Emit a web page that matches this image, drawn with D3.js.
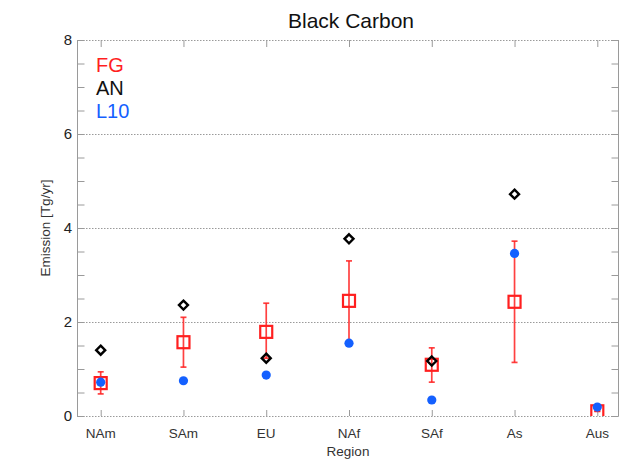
<!DOCTYPE html>
<html>
<head>
<meta charset="utf-8">
<script src="https://cdn.jsdelivr.net/npm/d3@7"></script>
<style>
  body { margin: 0; background: #fff; }
  svg { font-family: "Liberation Sans", Arial, sans-serif; }
</style>
</head>
<body>
<div class="chart"></div>
<script>
// data
const regions = ["NAm", "SAm", "EU", "NAf", "SAf", "As", "Aus"];
const fg = [0.7, 1.57, 1.79, 2.45, 1.09, 2.43, 0.1];
const fgLow = [0.47, 1.04, 1.23, 1.57, 0.72, 1.14, 0.1];
const fgHigh = [0.94, 2.1, 2.4, 3.3, 1.45, 3.72, 0.1];
const an = [1.4, 2.36, 1.23, 3.77, 1.17, 4.72, null];
const l10 = [0.72, 0.75, 0.87, 1.55, 0.34, 3.46, 0.19];
const yTicks = [0, 2, 4, 6, 8];
const legendLabels = ["FG", "AN", "L10"];

const red = "#ff1f1f";
const blue = "#1460ff";
const legendColors = [red, "#111", blue];

// canvas size
const width = 621;
const height = 459;
const pLeft = 77;
const pRight = 619;
const pTop = 40;
const pBottom = 416;

const svg = d3
  .select(".chart")
  .append("svg")
  .attr("width", width)
  .attr("height", height);

// scales
const xScale = d3.scalePoint().domain(regions).range([80, 618]).padding(0.25);
const yScale = d3.scaleLinear().domain([0, 8]).range([pBottom, pTop]);

// clip for marks
svg
  .append("clipPath")
  .attr("id", "plot-clip")
  .append("rect")
  .attr("x", pLeft)
  .attr("y", pTop)
  .attr("width", pRight - pLeft)
  .attr("height", pBottom - pTop);

// dotted gridlines incl. top and bottom frame
svg
  .append("g")
  .selectAll("line")
  .data(yTicks)
  .enter()
  .append("line")
  .attr("x1", pLeft)
  .attr("x2", pRight)
  .attr("y1", (d) => yScale(d) + 0.5)
  .attr("y2", (d) => yScale(d) + 0.5)
  .attr("stroke", "#9a9a9a")
  .attr("stroke-width", 1)
  .attr("stroke-dasharray", "1.5,1.5");

// left axis, ticks pointing inward
const yMinor = d3.range(0, 8.01, 0.5);
svg
  .append("g")
  .attr("transform", "translate(" + (pLeft + 0.5) + ",0)")
  .call(d3.axisRight(yScale).tickValues(yMinor).tickSize(7).tickFormat(""))
  .call((g) => g.selectAll("path, line").attr("stroke", "#9a9a9a"))
  .select(".domain")
  .attr("d", "M0," + pTop + "V" + pBottom);

// right axis
svg
  .append("g")
  .attr("transform", "translate(" + (pRight - 0.5) + ",0)")
  .call(d3.axisLeft(yScale).tickValues(yMinor).tickSize(7).tickFormat(""))
  .call((g) => g.selectAll("path, line").attr("stroke", "#9a9a9a"))
  .select(".domain")
  .attr("d", "M0," + pTop + "V" + pBottom);

// y labels
svg
  .append("g")
  .selectAll("text")
  .data(yTicks)
  .enter()
  .append("text")
  .attr("x", 72)
  .attr("y", (d) => yScale(d) + 5)
  .attr("text-anchor", "end")
  .attr("font-size", 15)
  .attr("fill", "#222")
  .text((d) => d);

// x axis ticks bottom and top
const xAxisBottom = svg
  .append("g")
  .attr("transform", "translate(0," + pBottom + ")")
  .call(d3.axisTop(xScale).tickSize(6).tickFormat(""));
xAxisBottom.select(".domain").remove();
xAxisBottom.selectAll("line").attr("stroke", "#9a9a9a");

const xAxisTop = svg
  .append("g")
  .attr("transform", "translate(0," + pTop + ")")
  .call(d3.axisBottom(xScale).tickSize(7).tickFormat(""));
xAxisTop.select(".domain").remove();
xAxisTop.selectAll("line").attr("stroke", "#9a9a9a");

// x labels
svg
  .append("g")
  .selectAll("text")
  .data(regions)
  .enter()
  .append("text")
  .attr("x", (d) => xScale(d))
  .attr("y", 438)
  .attr("text-anchor", "middle")
  .attr("font-size", 13.5)
  .attr("fill", "#333")
  .text((d) => d);

svg
  .append("text")
  .attr("x", 348)
  .attr("y", 456)
  .attr("text-anchor", "middle")
  .attr("font-size", 13.5)
  .attr("fill", "#333")
  .text("Region");

svg
  .append("text")
  .attr("transform", "translate(50," + (pTop + pBottom) / 2 + ") rotate(-90)")
  .attr("text-anchor", "middle")
  .attr("font-size", 13.5)
  .attr("fill", "#333")
  .text("Emission  [Tg/yr]");

// title
svg
  .append("text")
  .attr("x", 351)
  .attr("y", 28)
  .attr("text-anchor", "middle")
  .attr("font-size", 21)
  .attr("fill", "#111")
  .text("Black Carbon");

// marks
const marks = svg.append("g").attr("clip-path", "url(#plot-clip)");

// FG error bars
const errBars = marks
  .selectAll(".err")
  .data(regions)
  .enter()
  .append("g")
  .attr("class", "err")
  .attr("stroke", red)
  .attr("stroke-opacity", 0.85)
  .attr("stroke-width", 1.7);

errBars
  .append("line")
  .attr("x1", (d) => xScale(d))
  .attr("x2", (d) => xScale(d))
  .attr("y1", (d, i) => yScale(fgLow[i]))
  .attr("y2", (d, i) => yScale(fgHigh[i]));

[fgLow, fgHigh].forEach((arr) => {
  errBars
    .append("line")
    .attr("x1", (d) => xScale(d) - 3)
    .attr("x2", (d) => xScale(d) + 3)
    .attr("y1", (d, i) => yScale(arr[i]))
    .attr("y2", (d, i) => yScale(arr[i]));
});

// FG squares
marks
  .selectAll(".fg")
  .data(regions)
  .enter()
  .append("rect")
  .attr("class", "fg")
  .attr("x", (d) => xScale(d) - 6)
  .attr("y", (d, i) => yScale(fg[i]) - 6)
  .attr("width", 12)
  .attr("height", 12)
  .attr("fill", "none")
  .attr("stroke", red)
  .attr("stroke-width", 2.2);

// AN diamonds
marks
  .selectAll(".an")
  .data(regions.filter((d, i) => an[i] != null))
  .enter()
  .append("path")
  .attr("class", "an")
  .attr("d", (d) => {
    const i = regions.indexOf(d);
    const cx = xScale(d);
    const cy = yScale(an[i]);
    return (
      "M" + cx + "," + (cy - 4.5) +
      "L" + (cx + 4.5) + "," + cy +
      "L" + cx + "," + (cy + 4.5) +
      "L" + (cx - 4.5) + "," + cy + "Z"
    );
  })
  .attr("fill", "none")
  .attr("stroke", "#000")
  .attr("stroke-width", 2.4);

// L10 dots
marks
  .selectAll(".l10")
  .data(regions)
  .enter()
  .append("circle")
  .attr("class", "l10")
  .attr("cx", (d) => xScale(d))
  .attr("cy", (d, i) => yScale(l10[i]))
  .attr("r", 4.6)
  .attr("fill", blue);

// legend
svg
  .append("g")
  .selectAll("text")
  .data(legendLabels)
  .enter()
  .append("text")
  .attr("x", 96)
  .attr("y", (d, i) => 72 + i * 23)
  .attr("font-size", 20)
  .attr("fill", (d, i) => legendColors[i])
  .text((d) => d);
</script>
</body>
</html>
